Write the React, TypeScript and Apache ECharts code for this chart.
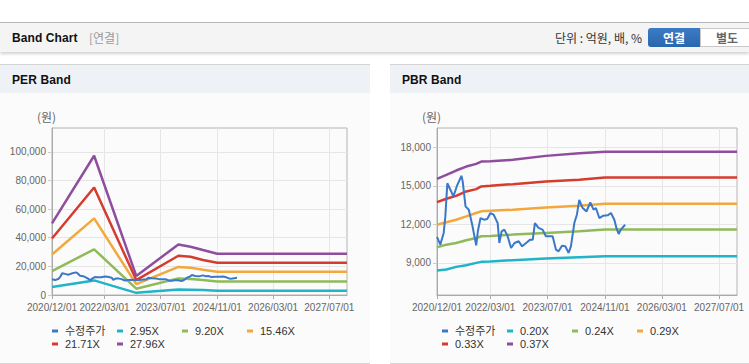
import React, { useEffect, useRef } from "react";
import * as echarts from "echarts";

// ---------- data ----------
const xTickDates = ["2020-12-01", "2022-03-01", "2023-07-01", "2024-11-01", "2026-03-01", "2027-07-01"];
const xMinDate = "2020-12-01";
const xMaxDate = "2027-12-01";

const priceName = "수정주가";
const priceDates = [
  "2020-12-01", "2020-12-29", "2021-01-27", "2021-02-10", "2021-02-27", "2021-04-01", "2021-04-20", "2021-05-18",
  "2021-06-27", "2021-07-08", "2021-08-01", "2021-08-29", "2021-09-27", "2021-10-16", "2021-10-31", "2021-11-14",
  "2021-12-07", "2022-01-05", "2022-02-02", "2022-03-01", "2022-03-29", "2022-05-02", "2022-05-16", "2022-06-05",
  "2022-06-28", "2022-07-26", "2022-08-24", "2022-09-22", "2022-10-28", "2022-11-26", "2022-12-30", "2023-02-03",
  "2023-02-25", "2023-03-15", "2023-04-15", "2023-05-19", "2023-06-17", "2023-08-13", "2023-09-11", "2023-10-03",
  "2023-11-01", "2023-11-29", "2023-12-27", "2024-01-16", "2024-02-14", "2024-03-07", "2024-03-27", "2024-04-25",
  "2024-05-28", "2024-06-29", "2024-07-27", "2024-08-16", "2024-09-14", "2024-10-18", "2024-11-24", "2024-12-22",
  "2025-01-20", "2025-02-09", "2025-02-26", "2025-03-16", "2025-04-22",
];
const priceValues = [
  11017, 10420, 11330, 12620, 15200, 14560, 14170, 14950,
  15780, 15340, 13400, 13140, 11970, 11070, 10370, 11460,
  12490, 12360, 12410, 12880, 12750, 12100, 10550, 11460,
  11590, 11070, 10160, 10550, 10680, 10290, 10550, 10810,
  10810, 12100, 11720, 11590, 11070, 11070, 10030, 9900,
  10340, 10290, 9775, 10290, 12100, 12750, 13910, 13270,
  13010, 13700, 13140, 13270, 12490, 12670, 12700, 12880,
  12360, 11640, 11250, 11590, 11970,
];

// PER band
const perNames = ["2.95X", "9.20X", "15.46X", "21.71X", "27.96X"];
const perDates = ["2020-12-01", "2021-12-01", "2022-12-01", "2023-12-01", "2024-03-15", "2024-07-01", "2024-11-01", "2027-12-01"];
const per295 = [5600, 10200, 1500, 3800, 3700, 3500, 3000, 3000];
const per920 = [16700, 31900, 4400, 11600, 11100, 10400, 9400, 9400];
const per1546 = [28300, 53500, 7600, 19600, 19000, 17600, 16200, 16200];
const per2171 = [39500, 75100, 10400, 27400, 26700, 24400, 22500, 22500];
const per2796 = [50000, 97200, 13300, 35300, 33700, 31400, 28800, 28800];
const perYTicks = [0, 20000, 40000, 60000, 80000, 100000];

// PBR band
const pbrNames = ["0.20X", "0.24X", "0.29X", "0.33X", "0.37X"];
const pbrDates = [
  "2020-12-01", "2021-02-19", "2021-05-13", "2021-08-07", "2021-10-31", "2021-12-13",
  "2022-03-01", "2022-09-08", "2023-06-17", "2024-03-27", "2024-11-01", "2027-12-01",
];
const pbr020 = [8400, 8480, 8690, 8820, 9000, 9080, 9100, 9210, 9340, 9440, 9520, 9520];
const pbr024 = [10220, 10420, 10550, 10760, 10940, 11070, 11100, 11200, 11330, 11460, 11590, 11590];
const pbr029 = [11970, 12160, 12360, 12620, 12880, 13010, 13060, 13140, 13320, 13450, 13600, 13600];
const pbr033 = [13730, 13990, 14220, 14560, 14740, 14950, 15000, 15130, 15340, 15470, 15650, 15650];
const pbr037 = [15540, 15850, 16190, 16500, 16710, 16890, 16910, 17020, 17330, 17530, 17660, 17660];
const pbrYTicks = [9000, 12000, 15000, 18000];

// ---------- styling ----------
const priceColor = "#3a78c8";
const bandColors = ["#20b4c8", "#8fba5a", "#f3a73d", "#d53c2e", "#8f4d9d"];
const sans = "'Liberation Sans', Arial, 'Noto Sans CJK KR', sans-serif";
const cjk = "'Noto Sans CJK KR', 'Liberation Sans', sans-serif";

const toTs = (s: string) => {
  const [y, m, d] = s.split("-").map(Number);
  return Date.UTC(y, m - 1, d);
};
const pad = (n: number) => (n < 10 ? "0" + n : "" + n);
const fmtDate = (v: number) => {
  const d = new Date(v);
  return `${d.getUTCFullYear()}/${pad(d.getUTCMonth() + 1)}/${pad(d.getUTCDate())}`;
};
const fmtNum = (v: number) => Math.round(v).toLocaleString("en-US");

type Cfg = {
  gridLeft: number;
  gridRight: number;
  yMin: number;
  yMax: number;
  yTicks: number[];
  bandNames: string[];
  bandDates: string[];
  bands: number[][];
  unitX: number;
};

function buildOption(c: Cfg) {
  const xTicks = xTickDates.map(toTs);
  const series: any[] = [
    {
      name: priceName,
      type: "line",
      data: priceDates.map((d, i) => [toTs(d), priceValues[i]]),
      showSymbol: false,
      symbol: "none",
      lineStyle: { color: priceColor, width: 2 },
      itemStyle: { color: priceColor },
      z: 5,
    },
  ];
  c.bands.forEach((vals, k) => {
    series.push({
      name: c.bandNames[k],
      type: "line",
      data: c.bandDates.map((d, i) => [toTs(d), vals[i]]),
      showSymbol: false,
      symbol: "none",
      lineStyle: { color: bandColors[k], width: 2.5 },
      itemStyle: { color: bandColors[k] },
      z: 3,
    });
  });
  return {
    animation: false,
    grid: {
      left: c.gridLeft,
      right: c.gridRight,
      top: 35,
      bottom: 68,
      show: true,
      borderColor: "#b4b4b4",
      borderWidth: 1,
      backgroundColor: "transparent",
    },
    xAxis: {
      type: "value",
      min: toTs(xMinDate),
      max: toTs(xMaxDate),
      axisLine: { show: true, lineStyle: { color: "#aaaaaa" } },
      axisTick: { show: true, length: 4, lineStyle: { color: "#aaaaaa" }, customValues: xTicks },
      axisLabel: {
        customValues: xTicks,
        formatter: (v: number) => fmtDate(v),
        color: "#666666",
        fontSize: 10,
        fontFamily: sans,
        margin: 7,
        hideOverlap: false,
        showMinLabel: true,
        showMaxLabel: true,
      },
      splitLine: { show: true, lineStyle: { color: "#e6e6e6", width: 1 } },
    },
    yAxis: {
      type: "value",
      min: c.yMin,
      max: c.yMax,
      axisLine: { show: true, lineStyle: { color: "#aaaaaa" } },
      axisTick: { show: true, length: 4, lineStyle: { color: "#cccccc" }, customValues: c.yTicks },
      axisLabel: {
        customValues: c.yTicks,
        formatter: (v: number) => fmtNum(v),
        color: "#666666",
        fontSize: 10,
        fontFamily: sans,
        margin: 6,
        showMinLabel: true,
      },
      splitLine: { show: true, lineStyle: { color: "#e6e6e6", width: 1 } },
    },
    legend: {
      left: 52,
      top: 232,
      width: 270,
      padding: 0,
      itemWidth: 6,
      itemHeight: 3,
      itemGap: 1,
      icon: "rect",
      data: [priceName, ...c.bandNames],
      textStyle: {
        fontSize: 11,
        color: "#333333",
        fontFamily: sans,
        width: 51,
        lineHeight: 12,
        padding: [0, 0, 0, 2],
      },
    },
    graphic: [
      {
        type: "text",
        left: c.unitX,
        top: 17,
        style: { text: "(원)", fill: "#666666", font: `12px ${cjk}` },
      },
    ],
    series,
  };
}

function BandChart({ cfg, width }: { cfg: Cfg; width: number }) {
  const ref = useRef<HTMLDivElement | null>(null);
  useEffect(() => {
    if (!ref.current) return;
    const chart = echarts.init(ref.current, undefined, { renderer: "svg" });
    chart.setOption(buildOption(cfg) as any);
    return () => chart.dispose();
  }, []);
  return <div ref={ref} style={{ width, height: 270 }} />;
}

const perCfg: Cfg = {
  gridLeft: 52,
  gridRight: 23,
  yMin: 0,
  yMax: 116600,
  yTicks: perYTicks,
  bandNames: perNames,
  bandDates: perDates,
  bands: [per295, per920, per1546, per2171, per2796],
  unitX: 37,
};
const pbrCfg: Cfg = {
  gridLeft: 47,
  gridRight: 12,
  yMin: 6500,
  yMax: 19500,
  yTicks: pbrYTicks,
  bandNames: pbrNames,
  bandDates: pbrDates,
  bands: [pbr020, pbr024, pbr029, pbr033, pbr037],
  unitX: 32,
};

const titleStyle: React.CSSProperties = {
  position: "absolute",
  left: 12,
  top: 6,
  fontFamily: sans,
  fontWeight: "bold",
  fontSize: 12,
  letterSpacing: 0.1,
  color: "#111111",
  lineHeight: "18px",
  whiteSpace: "nowrap",
};

function Panel({ x, width, title, cfg }: { x: number; width: number; title: string; cfg: Cfg }) {
  return (
    <div style={{ position: "absolute", left: x, top: 64, width, height: 300 }}>
      <div
        style={{
          position: "absolute",
          left: 0,
          top: 0,
          width,
          height: 28,
          borderTop: "1px solid #d4d4d4",
          background: "#eef1f6",
        }}
      >
        <div style={{ ...titleStyle, top: 6 }}>{title}</div>
      </div>
      <div
        style={{
          position: "absolute",
          left: 0,
          top: 29,
          width,
          height: 270,
          background: "#fbfbfb",
          borderBottom: "1px solid #d6d6d6",
        }}
      >
        <BandChart cfg={cfg} width={width} />
      </div>
    </div>
  );
}

export default function App() {
  useEffect(() => {
    document.body.style.margin = "0";
    document.body.style.background = "#ffffff";
  }, []);
  return (
    <div style={{ position: "relative", width: 749, height: 364, overflow: "hidden", background: "#ffffff" }}>
      <div
        style={{
          position: "absolute",
          left: 0,
          top: 22,
          width: 749,
          height: 29,
          borderTop: "1px solid #b8b8b8",
          background: "#f4f4f4",
          boxShadow: "0 2px 3px rgba(0,0,0,0.18)",
        }}
      >
        <div style={{ ...titleStyle, top: 6 }}>Band Chart</div>
        <div
          style={{
            position: "absolute",
            left: 89,
            top: 7,
            fontFamily: cjk,
            fontSize: 12,
            color: "#999999",
            lineHeight: "16px",
          }}
        >
          [연결]
        </div>
        <div
          style={{
            position: "absolute",
            right: 107,
            top: 7,
            fontFamily: cjk,
            fontSize: 12,
            color: "#333333",
            lineHeight: "16px",
            whiteSpace: "nowrap",
          }}
        >
          단위 : 억원, 배, %
        </div>
        <div
          style={{
            position: "absolute",
            left: 648,
            top: 5,
            width: 52,
            height: 19,
            background: "linear-gradient(#3b7cc4, #2a66ad)",
            borderRadius: "3px 0 0 3px",
            color: "#ffffff",
            fontFamily: cjk,
            fontWeight: "bold",
            fontSize: 12,
            lineHeight: "19px",
            textAlign: "center",
          }}
        >
          연결
        </div>
        <div
          style={{
            position: "absolute",
            left: 700,
            top: 5,
            width: 52,
            height: 17,
            background: "#ffffff",
            border: "1px solid #c8c8c8",
            color: "#666666",
            fontFamily: cjk,
            fontWeight: "bold",
            fontSize: 12,
            lineHeight: "17px",
            textAlign: "center",
            boxSizing: "content-box",
          }}
        >
          별도
        </div>
      </div>
      <Panel x={0} width={370} title="PER Band" cfg={perCfg} />
      <Panel x={390} width={359} title="PBR Band" cfg={pbrCfg} />
    </div>
  );
}
